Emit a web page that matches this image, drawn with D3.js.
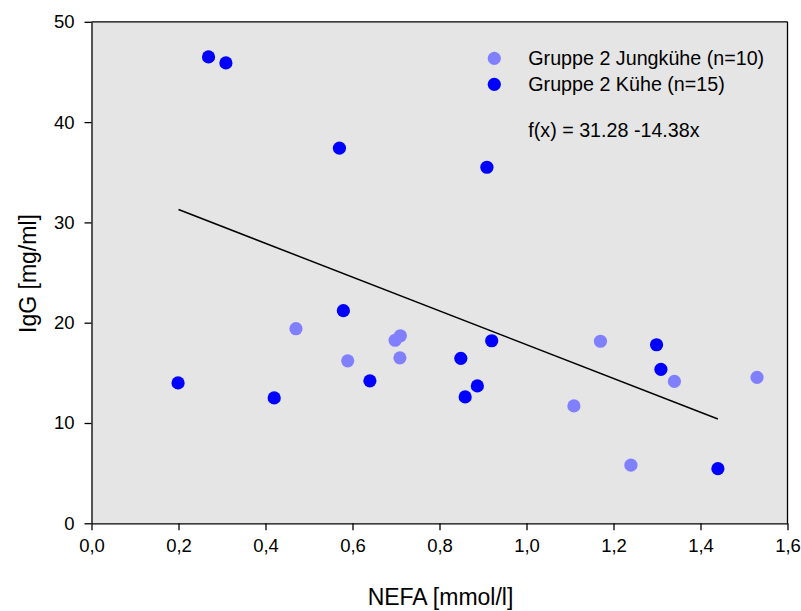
<!DOCTYPE html>
<html>
<head>
<meta charset="utf-8">
<script src="https://cdn.jsdelivr.net/npm/d3@7"></script>
<style>
  html, body { margin: 0; padding: 0; background: #ffffff; }
  svg { display: block; font-family: "Liberation Sans", Arial, sans-serif; }
</style>
</head>
<body>
<svg id="chart" width="801" height="611"></svg>
<script>
// Gruppe 2 Jungkühe (n=10)
const jungX = [0.47, 0.698, 0.71, 0.589, 0.709, 1.17, 1.34, 1.53, 1.109, 1.24];
const jungY = [19.4, 18.25, 18.7, 16.2, 16.5, 18.15, 14.15, 14.55, 11.7, 5.8];
// Gruppe 2 Kühe (n=15)
const kuheX = [0.269, 0.309, 0.57, 0.909, 0.579, 0.849, 0.64, 0.199, 0.42, 0.859, 0.887, 0.92, 1.299, 1.309, 1.44];
const kuheY = [46.5, 45.9, 37.4, 35.5, 21.2, 16.45, 14.2, 14.0, 12.5, 12.6, 13.7, 18.2, 17.8, 15.35, 5.45];
// regression line as drawn
const lineX = [0.2, 1.44];
const lineY = [31.28, 10.4];
const xTicks = [0, 0.2, 0.4, 0.6, 0.8, 1.0, 1.2, 1.4, 1.6];
const yTicks = [0, 10, 20, 30, 40, 50];
const legendLabels = ["Gruppe 2 Jungkühe (n=10)", "Gruppe 2 Kühe (n=15)"];
const formulaText = "f(x) = 31.28 -14.38x";
const xTitle = "NEFA [mmol/l]";
const yTitle = "IgG [mg/ml]";

const colLight = "#8080ff", colDark = "#0000ff";

const svg = d3.select("#chart");
const x = d3.scaleLinear().domain([0, 1.6]).range([91.5, 787.5]);
const y = d3.scaleLinear().domain([0, 50]).range([523.3, 21.8]);

// plot background
svg.append("rect")
  .attr("x", x(0)).attr("y", y(50))
  .attr("width", x(1.6) - x(0)).attr("height", y(0) - y(50))
  .attr("fill", "#e5e5e5");

// frame top & right
svg.append("line").attr("x1", x(0)).attr("x2", x(1.6)).attr("y1", y(50)).attr("y2", y(50))
  .attr("stroke", "#000").attr("stroke-width", 1.3);
svg.append("line").attr("x1", x(1.6)).attr("x2", x(1.6)).attr("y1", y(50)).attr("y2", y(0))
  .attr("stroke", "#000").attr("stroke-width", 1.3);

// axes
const fmt = d => d3.format(".1f")(d).replace(".", ",");
const xAxis = svg.append("g").attr("transform", `translate(0,${y(0)})`)
  .call(d3.axisBottom(x).tickValues(xTicks).tickFormat(fmt).tickSizeInner(7).tickSizeOuter(0).tickPadding(9));
const yAxis = svg.append("g").attr("transform", `translate(${x(0)},0)`)
  .call(d3.axisLeft(y).tickValues(yTicks).tickFormat(d3.format("d")).tickSizeInner(7).tickSizeOuter(0).tickPadding(10));
[xAxis, yAxis].forEach(g => {
  g.select(".domain").attr("stroke", "#000").attr("stroke-width", 1.3);
  g.selectAll(".tick line").attr("stroke", "#000").attr("stroke-width", 1.3);
  g.selectAll(".tick text").attr("fill", "#000")
    .style("font-size", "18.5px").style("font-family", "'Liberation Sans', Arial, sans-serif");
});

// regression line
svg.append("line")
  .attr("x1", x(lineX[0])).attr("y1", y(lineY[0]))
  .attr("x2", x(lineX[1])).attr("y2", y(lineY[1]))
  .attr("stroke", "#000").attr("stroke-width", 1.5);

// points
svg.append("g").selectAll("circle").data(jungX.map((d, i) => [d, jungY[i]])).join("circle")
  .attr("cx", d => x(d[0])).attr("cy", d => y(d[1])).attr("r", 6.6).attr("fill", colLight);
svg.append("g").selectAll("circle").data(kuheX.map((d, i) => [d, kuheY[i]])).join("circle")
  .attr("cx", d => x(d[0])).attr("cy", d => y(d[1])).attr("r", 6.6).attr("fill", colDark);

// legend
const legCols = [colLight, colDark];
legendLabels.forEach((t, i) => {
  svg.append("circle").attr("cx", 494.3).attr("cy", 58.3 + i * 26).attr("r", 6.6).attr("fill", legCols[i]);
  svg.append("text").attr("x", 528.3).attr("y", 65 + i * 26)
    .style("font-size", "19.7px").attr("fill", "#000").text(t);
});
svg.append("text").attr("x", 528.3).attr("y", 137.2)
  .style("font-size", "19.7px").attr("fill", "#000").text(formulaText);

// axis titles
svg.append("text").attr("x", (x(0) + x(1.6)) / 2 + 1).attr("y", 604.5)
  .attr("text-anchor", "middle").style("font-size", "23px").attr("fill", "#000").text(xTitle);
svg.append("text")
  .attr("transform", `translate(36,${(y(0) + y(50)) / 2 + 1}) rotate(-90)`)
  .attr("text-anchor", "middle").style("font-size", "23px").attr("fill", "#000").text(yTitle);
</script>
</body>
</html>
